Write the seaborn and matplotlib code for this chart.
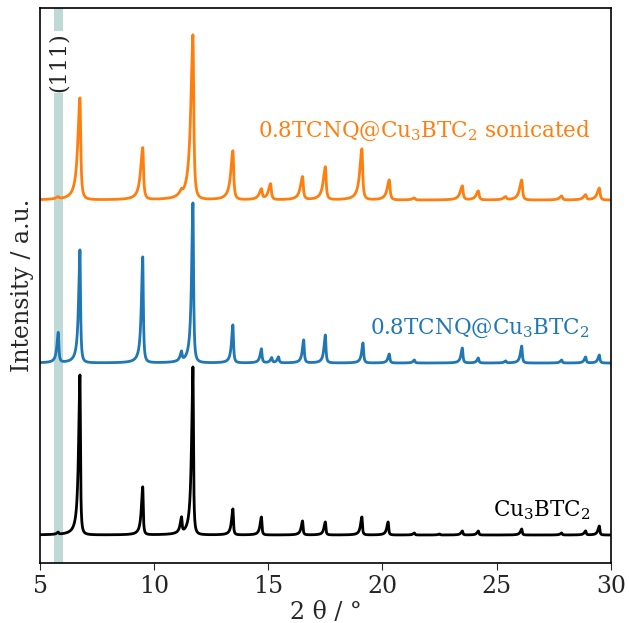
import numpy as np
import pandas as pd
import matplotlib
matplotlib.use("Agg")
import matplotlib.pyplot as plt
import seaborn as sns

# peak positions (2 theta) and heights, per pattern
cu_pos = [5.8, 6.75, 9.5, 11.2, 11.7, 13.45, 14.7, 16.5, 17.5, 19.1, 20.25,
          21.4, 22.5, 23.5, 24.2, 26.1, 27.85, 28.9, 29.5]
cu_h = [2, 160, 48, 15, 168, 26, 18, 14, 13, 18, 13,
        2, 1, 4, 4, 6, 2, 4, 9]

tcnq_pos = [5.8, 6.75, 9.5, 11.2, 11.7, 13.45, 14.7, 15.15, 15.45, 16.55, 17.5,
            19.15, 20.3, 21.4, 23.5, 24.2, 25.4, 26.1, 27.85, 28.9, 29.5]
tcnq_h = [30, 113, 106, 9, 160, 38, 14, 5, 6, 23, 28,
          20, 9, 3, 15, 5, 2, 17, 3, 6, 8]

son_pos = [5.8, 6.75, 9.5, 11.2, 11.7, 13.45, 14.7, 15.1, 16.5, 17.5,
           19.1, 20.3, 21.4, 23.5, 24.2, 25.4, 26.1, 27.85, 28.9, 29.5]
son_h = [2, 102, 52, 4, 165, 49, 10, 16, 23, 33,
         51, 20, 2, 14, 9, 3, 20, 4, 5, 12]

offsets = [28, 200, 363]
labels = ["Cu$_3$BTC$_2$", "0.8TCNQ@Cu$_3$BTC$_2$",
          "0.8TCNQ@Cu$_3$BTC$_2$ sonicated"]
colors = ["black", "#1f77b4", "#ff7f0e"]
widths = [(0.07, 0.025), (0.07, 0.03), (0.11, 0.04)]  # left / right hwhm
label_y = [53, 235, 432]


def pattern(x, pos, h, wl, wr):
    y = np.zeros_like(x)
    for p, a in zip(pos, h):
        w = np.where(x < p, wl, wr)
        y += a / (1 + ((x - p) / w) ** 2)
    return y


sns.set_style("ticks", {"axes.edgecolor": "0"})
plt.rcParams["font.family"] = ["DejaVu Serif"]
plt.rcParams["mathtext.fontset"] = "dejavuserif"

fig = plt.figure(figsize=(6.29, 6.23), dpi=100)
ax = fig.add_axes([0.0636, 0.0963, 0.9074, 0.8907])

ax.axvspan(5.6, 6.0, color="#bfd9d7", lw=0, zorder=0)

x = np.arange(5, 30.001, 0.005)
series = [(cu_pos, cu_h), (tcnq_pos, tcnq_h), (son_pos, son_h)]
for (pos, h), off, col, (wl, wr) in zip(series, offsets, colors, widths):
    df = pd.DataFrame({"x": x, "y": off + pattern(x, pos, h, wl, wr)})
    sns.lineplot(data=df, x="x", y="y", color=col, lw=2, ax=ax)

for lab, col, ly in zip(labels, colors, label_y):
    ax.text(29.1, ly, lab, color=col, fontsize=15.5, ha="right", va="center")

ax.text(5.8, 501, "(111)", rotation=90, fontsize=16, ha="center", va="center",
        bbox=dict(facecolor="white", edgecolor="none", pad=1))

ax.set_xlim(5, 30)
ax.set_ylim(0, 555)
ax.set_xticks([5, 10, 15, 20, 25, 30])
ax.set_yticks([])
ax.tick_params(axis="x", labelsize=17, direction="out", length=5)
ax.set_xlabel("2 θ / °", fontsize=17, labelpad=2)
ax.set_ylabel("Intensity / a.u.", fontsize=17, labelpad=4)
for s in ax.spines.values():
    s.set_linewidth(1.2)

fig.savefig("out.png", dpi=100)
